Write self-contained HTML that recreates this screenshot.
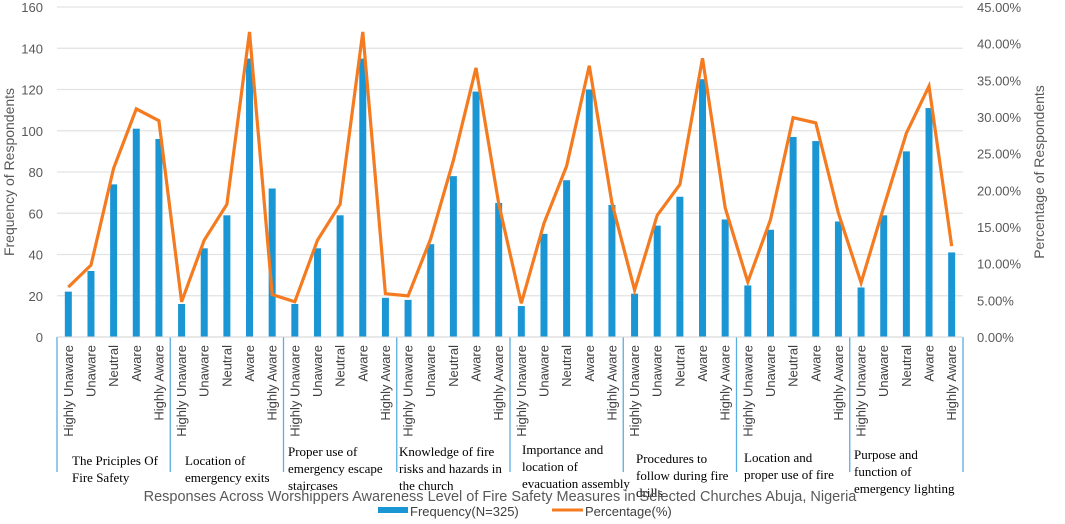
<!DOCTYPE html>
<html><head><meta charset="utf-8"><style>
body{margin:0;background:#fff;}
svg text{font-family:"Liberation Sans",sans-serif;}
.cat{font-family:"Liberation Serif",serif;font-size:13px;fill:#000;}
</style></head><body>
<svg id="chart" width="1065" height="519" viewBox="0 0 1065 519" xmlns="http://www.w3.org/2000/svg"></svg>
<script>
const groups = ["The Priciples Of|Fire Safety","Location of|emergency exits","Proper use of|emergency escape|staircases","Knowledge of fire|risks and hazards in|the church","Importance and|location of|evacuation assembly","Procedures to|follow during fire|drills","Location and|proper use of fire","Purpose and|function of|emergency lighting"];
const levels = ["Highly Unaware","Unaware","Neutral","Aware","Highly Aware"];
const frequency = [22,32,74,101,96, 16,43,59,135,72, 16,43,59,135,19, 18,45,78,119,65, 15,50,76,120,64, 21,54,68,125,57, 25,52,97,95,56, 24,59,90,111,41];
const percentage = [6.8,9.8,23.0,31.1,29.5, 4.8,13.2,18.1,41.6,5.8, 4.8,13.2,18.1,41.6,5.9, 5.6,13.4,24.1,36.7,18.2, 4.6,15.5,23.3,37.0,18.3, 6.4,16.6,20.8,38.0,17.6, 7.5,16.0,29.9,29.2,16.9, 7.4,17.7,27.8,34.2,12.4];
const leftTicks = [0,20,40,60,80,100,120,140,160];
const rightTicks = [0,5,10,15,20,25,30,35,40,45];
const catLabelPos = [[72,465],[185,465],[288,456],[399,456],[522,454],[636,463],[744,462],[854,459]];

const NS="http://www.w3.org/2000/svg";
const svg=document.getElementById('chart');
const L=57,R=963,T=7,B=337;
const yL=v=>B-(v/160)*(B-T);
const yR=v=>B-(v/45)*(B-T);
const n=frequency.length, slot=(R-L)/n;
const xC=i=>L+slot*(i+0.5);
function el(tag,attrs,parent){const e=document.createElementNS(NS,tag);for(const k in attrs)e.setAttribute(k,attrs[k]);(parent||svg).appendChild(e);return e;}

leftTicks.forEach(t=>{
  const g=el('line',{x1:L,x2:R,y1:yL(t),y2:yL(t),stroke:'#e3e3e3','stroke-width':1.2});
  
  
  const tx=el('text',{x:43,y:yL(t)+5,'text-anchor':'end','font-size':13,fill:'#595959'});
  tx.textContent=t;
  
  
});
rightTicks.forEach(t=>{
  const tx=el('text',{x:977,y:yR(t)+5,'font-size':13,fill:'#595959'});
  tx.textContent=t.toFixed(2)+'%';
  
  
});
let t1=el('text',{transform:'translate(14,172) rotate(-90)','text-anchor':'middle','font-size':14,fill:'#595959'});
t1.textContent='Frequency of Respondents';


let t2=el('text',{transform:'translate(1044,172) rotate(-90)','text-anchor':'middle','font-size':14,fill:'#595959'});
t2.textContent='Percentage of Respondents';



frequency.forEach((v,i)=>{
  const r=el('rect',{x:xC(i)-3.5,y:yL(v),width:7,height:B-yL(v),fill:'#1a96d4'});
  
  
  const lb=el('text',{transform:`translate(${xC(i)+4.5},345) rotate(-90)`,'text-anchor':'end','font-size':13,fill:'#404040'});
  lb.textContent=levels[i%5];
  
  
});
for(let g=0;g<=groups.length;g++){
  const x=L+slot*5*g;
  const s=el('line',{x1:x,x2:x,y1:B,y2:472,stroke:'#5aaee0','stroke-width':1.3});
  
  
}
groups.forEach((gname,g)=>{
  const t=el('text',{class:'cat',x:catLabelPos[g][0],y:catLabelPos[g][1]});
  
  
  gname.split('|').forEach((ln,k)=>{const ts=el('tspan',{x:catLabelPos[g][0],dy:k?17:0},t);ts.textContent=ln;});
});
const pts=percentage.map((p,i)=>xC(i).toFixed(1)+','+yR(p).toFixed(1)).join(' ');
const pl=el('polyline',{points:pts,fill:'none',stroke:'#f47b20','stroke-width':3.2,'stroke-linejoin':'miter'});


const ax=el('line',{x1:L,x2:R,y1:B,y2:B,stroke:'#d9d9d9','stroke-width':1});



const title=el('text',{x:500,y:501,'text-anchor':'middle','font-size':14.5,fill:'#595959'});
title.textContent='Responses Across Worshippers Awareness Level of Fire Safety Measures in Selected Churches Abuja, Nigeria';


const lg1=el('rect',{x:378,y:507,width:30,height:6,fill:'#1a96d4'});


const lt1=el('text',{x:410,y:516,'font-size':13,fill:'#404040'});lt1.textContent='Frequency(N=325)';


const lg2=el('line',{x1:552,x2:583,y1:510,y2:510,stroke:'#f47b20','stroke-width':3});


const lt2=el('text',{x:585,y:516,'font-size':13,fill:'#404040'});lt2.textContent='Percentage(%)';


</script>
</body></html>
